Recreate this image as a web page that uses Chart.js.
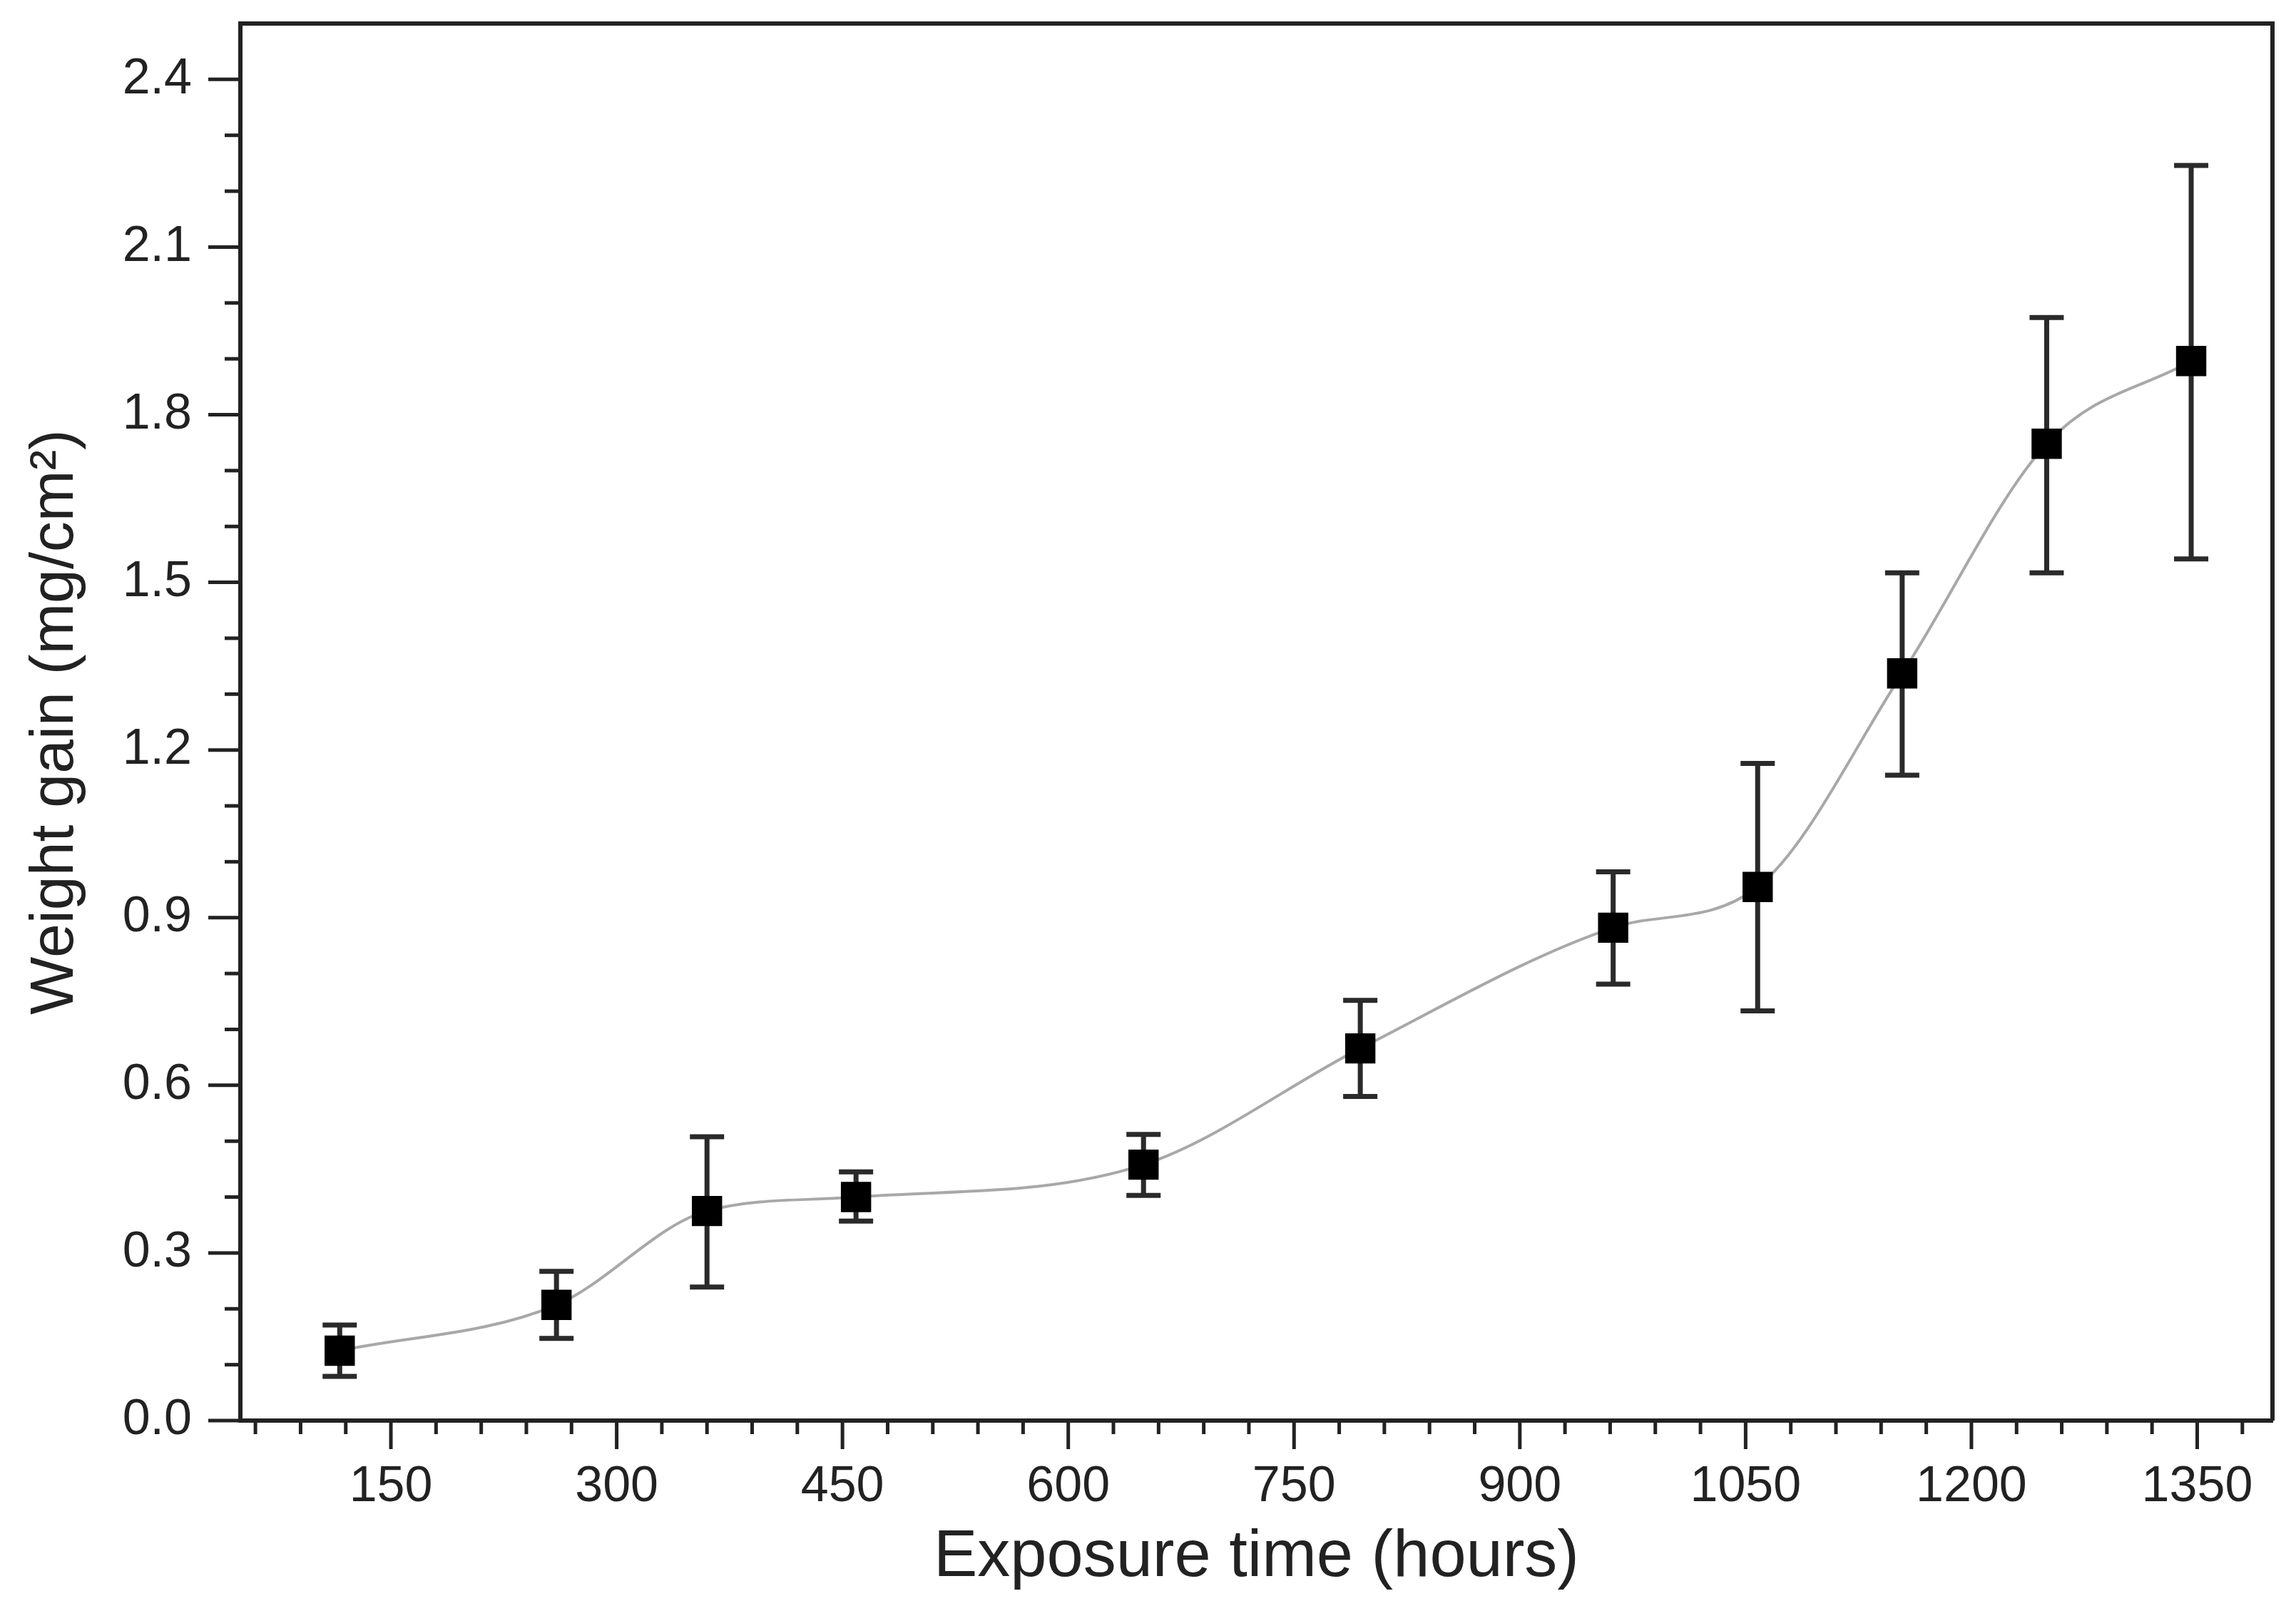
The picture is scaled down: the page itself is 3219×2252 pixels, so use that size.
<!DOCTYPE html>
<html>
<head>
<meta charset="utf-8">
<title>Weight gain vs exposure time</title>
<script src="https://cdn.jsdelivr.net/npm/chart.js@4.4.1/dist/chart.umd.min.js"></script>
<style>
  html, body { margin: 0; padding: 0; background: #fff; overflow: hidden; }
  canvas { display: block; }
</style>
</head>
<body>
<canvas id="weightChart" width="3219" height="2252"></canvas>
<script>
// Data
const hours = [116, 260, 360, 459, 650, 794, 962, 1058, 1154, 1250, 1346];
const weightGain = [0.125, 0.207, 0.375, 0.400, 0.458, 0.666, 0.882, 0.955, 1.337, 1.748, 1.896];
const errUpper = [0.171, 0.267, 0.508, 0.445, 0.512, 0.752, 0.982, 1.176, 1.517, 1.974, 2.246];
const errLower = [0.079, 0.147, 0.239, 0.357, 0.403, 0.580, 0.781, 0.733, 1.155, 1.517, 1.542];

// Axis ticks
const xTickLabels = [150, 300, 450, 600, 750, 900, 1050, 1200, 1350];
const yTickLabels = [0.0, 0.3, 0.6, 0.9, 1.2, 1.5, 1.8, 2.1, 2.4];

const axisColor = '#222';
const fontFamily = '"Liberation Sans", Arial, Helvetica, sans-serif';

// Origin style frame, minor/major ticks and error bars
const originDecor = {
    id: 'originDecor',
    beforeDatasetsDraw(chart) {
        const ctx = chart.ctx;
        const xs = chart.scales.x, ys = chart.scales.y;
        ctx.save();
        ctx.strokeStyle = '#2a2a2a';
        ctx.lineWidth = 7;
        ctx.lineCap = 'butt';
        hours.forEach((h, i) => {
            const px = xs.getPixelForValue(h);
            const top = ys.getPixelForValue(errUpper[i]);
            const bot = ys.getPixelForValue(errLower[i]);
            ctx.beginPath();
            ctx.moveTo(px, top); ctx.lineTo(px, bot);
            ctx.moveTo(px - 24, top); ctx.lineTo(px + 24, top);
            ctx.moveTo(px - 24, bot); ctx.lineTo(px + 24, bot);
            ctx.stroke();
        });
        ctx.restore();
    },
    afterDraw(chart) {
        const ctx = chart.ctx;
        const area = chart.chartArea;
        const xs = chart.scales.x, ys = chart.scales.y;
        ctx.save();
        ctx.strokeStyle = axisColor;
        ctx.lineWidth = 5;
        // y ticks every 0.1, major every 0.3
        for (let k = 0; k <= 24; k++) {
            const py = ys.getPixelForValue(k / 10);
            const len = (k % 3 === 0) ? 45 : 22;
            ctx.beginPath();
            ctx.moveTo(area.left, py); ctx.lineTo(area.left - len, py);
            ctx.stroke();
        }
        // x ticks every 30, major every 150
        for (let v = 60; v <= 1380; v += 30) {
            const px = xs.getPixelForValue(v);
            const len = (v % 150 === 0) ? 40 : 19;
            ctx.beginPath();
            ctx.moveTo(px, area.bottom); ctx.lineTo(px, area.bottom + len);
            ctx.stroke();
        }
        // top and right frame
        ctx.lineWidth = 6;
        ctx.beginPath();
        ctx.moveTo(area.left, area.top);
        ctx.lineTo(area.right, area.top);
        ctx.lineTo(area.right, area.bottom);
        ctx.stroke();
        ctx.restore();
    }
};

const ctx = document.getElementById('weightChart').getContext('2d');
const weightChart = new Chart(ctx, {
    type: 'line',
    data: {
        datasets: [{
            data: hours.map((h, i) => ({ x: h, y: weightGain[i] })),
            borderColor: '#a8a8a8',
            borderWidth: 4,
            cubicInterpolationMode: 'monotone',
            pointStyle: 'rect',
            pointRadius: 30,
            pointHoverRadius: 30,
            pointBackgroundColor: '#000',
            pointBorderWidth: 0,
            fill: false
        }]
    },
    options: {
        responsive: false,
        devicePixelRatio: 1,
        animation: false,
        layout: { autoPadding: false, padding: { left: 0, top: 33, right: 33, bottom: 0 } },
        plugins: {
            legend: { display: false },
            tooltip: { enabled: false }
        },
        scales: {
            x: {
                type: 'linear',
                min: 50,
                max: 1400,
                afterBuildTicks: (scale) => { scale.ticks = xTickLabels.map(v => ({ value: v })); },
                afterFit: (scale) => {
                    scale.height = 260;
                    scale.paddingLeft = 0;
                    scale.paddingRight = 0;
                },
                grid: { display: false, drawTicks: false },
                border: { display: true, color: axisColor, width: 6 },
                ticks: {
                    padding: 52,
                    maxRotation: 0,
                    autoSkip: false,
                    color: axisColor,
                    font: { family: fontFamily, size: 70 },
                    callback: (value) => String(value)
                },
                title: {
                    display: true,
                    text: 'Exposure time (hours)',
                    color: axisColor,
                    padding: { top: 0, bottom: 12 },
                    font: { family: fontFamily, size: 92 }
                }
            },
            y: {
                min: 0,
                max: 2.5,
                afterBuildTicks: (scale) => { scale.ticks = yTickLabels.map(v => ({ value: v })); },
                afterFit: (scale) => {
                    scale.width = 337;
                    scale.paddingTop = 0;
                    scale.paddingBottom = 0;
                },
                grid: { display: false, drawTicks: false },
                border: { display: true, color: axisColor, width: 6 },
                ticks: {
                    padding: 68,
                    autoSkip: false,
                    color: axisColor,
                    font: { family: fontFamily, size: 70 },
                    callback: (value) => Number(value).toFixed(1)
                },
                title: {
                    display: true,
                    text: 'Weight gain (mg/cm²)',
                    color: axisColor,
                    padding: { top: 27, bottom: 0 },
                    font: { family: fontFamily, size: 86 }
                }
            }
        }
    },
    plugins: [originDecor]
});
</script>
</body>
</html>
